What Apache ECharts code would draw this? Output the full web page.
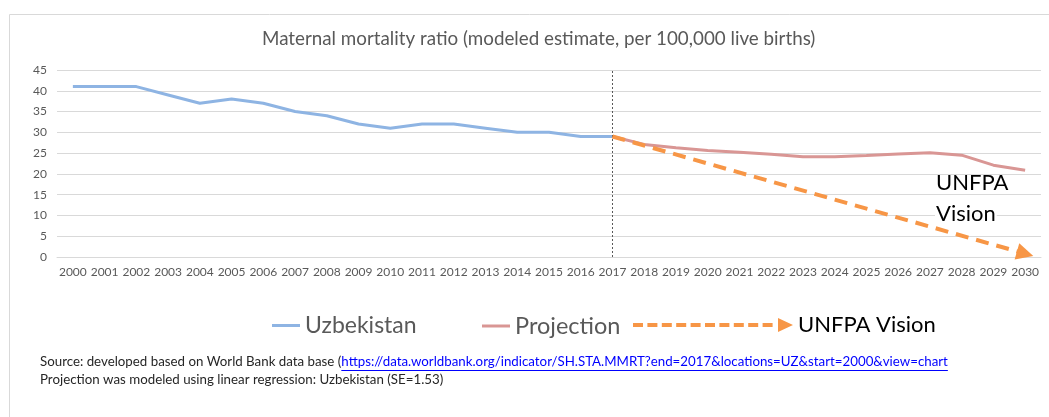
<!DOCTYPE html>
<html lang="en">
<head>
    <meta charset="UTF-8">
    <title>Maternal mortality ratio</title>
    <script src="https://cdn.jsdelivr.net/npm/echarts@6/dist/echarts.min.js"></script>
    <style>
        * { margin: 0; padding: 0; box-sizing: border-box; }
        body { background: #fff; }
        #chart { width: 1049px; height: 417px; }
    </style>
</head>
<body>
    <div id="chart"></div>

    <script>
        // data
        const years = ['2000', '2001', '2002', '2003', '2004', '2005', '2006', '2007', '2008', '2009',
            '2010', '2011', '2012', '2013', '2014', '2015', '2016', '2017', '2018', '2019',
            '2020', '2021', '2022', '2023', '2024', '2025', '2026', '2027', '2028', '2029', '2030'];
        const uzbekistan = [41, 41, 41, 39, 37, 38, 37, 35, 34, 32, 31, 32, 32, 31, 30, 30, 29, 29,
            null, null, null, null, null, null, null, null, null, null, null, null, null];
        const projection = [null, null, null, null, null, null, null, null, null, null, null, null,
            null, null, null, null, null, 29, 27.1, 26.3, 25.6, 25.2, 24.7, 24.1, 24.1, 24.4, 24.8,
            25.1, 24.5, 22.1, 20.9];
        const visionYears = ['2017', '2030'];
        const visionValues = [29, 0.8];
        const yTicks = { min: 0, max: 45, interval: 5 };

        const FONT = 'Lato';
        const GREY = '#595959';

        const sourcePrefix = 'Source: developed based on World Bank data base (';
        const sourceLink = 'https://data.worldbank.org/indicator/SH.STA.MMRT?end=2017&locations=UZ&start=2000&view=chart';
        const noteText = 'Projection was modeled using linear regression: Uzbekistan (SE=1.53)';

        // measure text so the link can follow the prefix
        const ctx = document.createElement('canvas').getContext('2d');
        ctx.font = '13.3px ' + FONT;
        const prefixW = ctx.measureText(sourcePrefix).width;
        const linkW = ctx.measureText(sourceLink).width;

        // dashed arrow icon for the UNFPA legend entry
        let arrowPath = 'path://';
        for (let i = 0; i < 10; i++) {
            arrowPath += 'M' + (i * 14.4) + ',5h10v4h-10z';
        }
        arrowPath += 'M145,0L160,7L145,14z';

        const chart = echarts.init(document.getElementById('chart'));
        chart.setOption({
            animation: false,
            title: {
                text: 'Maternal mortality ratio (modeled estimate, per 100,000 live births)',
                left: 257,
                top: 24,
                textStyle: { fontFamily: FONT, fontSize: 18.8, fontWeight: 'normal', color: GREY }
            },
            legend: [
                {
                    data: [{ name: 'Uzbekistan', icon: 'rect' }],
                    left: 267, top: 309,
                    itemWidth: 28, itemHeight: 3,
                    textStyle: { fontFamily: FONT, fontSize: 23, color: GREY }
                },
                {
                    data: [{ name: 'Projection', icon: 'rect' }],
                    left: 477, top: 309,
                    itemWidth: 28, itemHeight: 3,
                    textStyle: { fontFamily: FONT, fontSize: 23.5, color: GREY }
                },
                {
                    data: [{ name: 'UNFPA Vision', icon: arrowPath }],
                    left: 628, top: 309,
                    itemWidth: 160, itemHeight: 14,
                    textStyle: { fontFamily: FONT, fontSize: 22, color: '#000' }
                }
            ],
            grid: { left: 57, right: 8, top: 70, bottom: 160 },
            xAxis: {
                type: 'category',
                data: years,
                boundaryGap: true,
                axisLine: { lineStyle: { color: '#d9d9d9' } },
                axisTick: { show: false },
                axisLabel: { interval: 0, margin: 9, color: GREY, fontFamily: FONT, fontSize: 12 }
            },
            yAxis: {
                type: 'value',
                min: yTicks.min,
                max: yTicks.max,
                interval: yTicks.interval,
                axisLine: { show: false },
                axisTick: { show: false },
                splitLine: { lineStyle: { color: '#d9d9d9' } },
                axisLabel: { margin: 10, color: GREY, fontFamily: FONT, fontSize: 12 }
            },
            series: [
                {
                    name: 'Uzbekistan',
                    type: 'line',
                    data: uzbekistan,
                    showSymbol: false,
                    color: '#8EB4E3',
                    lineStyle: { width: 3 },
                    markLine: {
                        silent: true,
                        symbol: 'none',
                        label: { show: false },
                        lineStyle: { type: [2, 2], color: GREY, width: 1 },
                        data: [{ xAxis: '2017' }]
                    }
                },
                {
                    name: 'Projection',
                    type: 'line',
                    data: projection,
                    showSymbol: false,
                    color: '#D99694',
                    lineStyle: { width: 3 },
                    z: 3
                },
                {
                    name: 'UNFPA Vision',
                    type: 'line',
                    data: [],
                    color: '#F79646',
                    markLine: {
                        silent: true,
                        symbol: ['none', 'triangle'],
                        symbolSize: 17,
                        label: { show: false },
                        itemStyle: { color: '#F79646' },
                        lineStyle: { type: [13, 8], color: '#F79646', width: 4 },
                        data: [[
                            { coord: [visionYears[0], visionValues[0]] },
                            { coord: [visionYears[1], visionValues[1]] }
                        ]]
                    },
                    z: 4
                }
            ],
            graphic: [
                {
                    type: 'rect',
                    left: 7, top: 12,
                    shape: { width: 1100, height: 500 },
                    style: { fill: 'none', stroke: '#d9d9d9', lineWidth: 1 },
                    silent: true
                },
                {
                    type: 'text',
                    left: 936, top: 172, z: 1,
                    style: { text: 'UNFPA', fontFamily: FONT, fontSize: 22, fill: '#000' }
                },
                {
                    type: 'text',
                    left: 935, top: 203, z: 1,
                    style: {
                        text: 'Vision', fontFamily: FONT, fontSize: 22, fill: '#000',
                        backgroundColor: '#fff', padding: [0, 1]
                    }
                },
                {
                    type: 'text',
                    left: 40, top: 355,
                    style: { text: sourcePrefix, fontFamily: FONT, fontSize: 13.3, fill: '#262626' }
                },
                {
                    type: 'text',
                    left: 40 + prefixW, top: 355,
                    style: { text: sourceLink, fontFamily: FONT, fontSize: 13.3, fill: '#0000FF' }
                },
                {
                    type: 'rect',
                    left: 40 + prefixW, top: 370,
                    shape: { width: linkW, height: 1 },
                    style: { fill: '#0000FF' }
                },
                {
                    type: 'text',
                    left: 40, top: 373,
                    style: { text: noteText, fontFamily: FONT, fontSize: 13.3, fill: '#262626' }
                }
            ]
        });

        window.addEventListener('resize', function () {
            chart.resize();
        });
    </script>
</body>
</html>
